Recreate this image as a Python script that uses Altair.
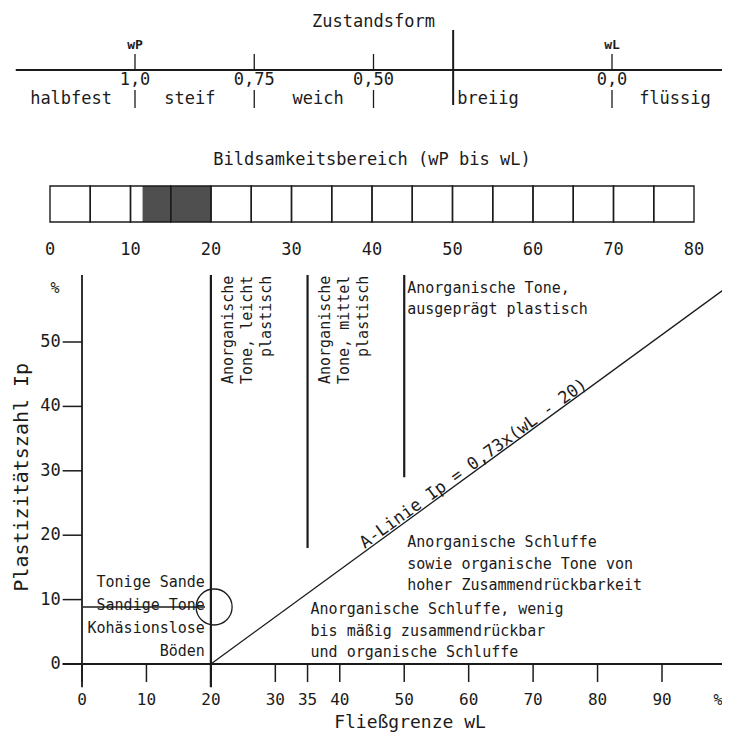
import altair as alt
import pandas as pd

FONT = "DejaVu Sans Mono"
INK = "#1b1b1b"

# ---------------- data ----------------
# Zustandsform strip (consistency index Ic)
ic_ticks = [1.0, 0.75, 0.50, 0.0]
ic_tick_labels = ["1,0", "0,75", "0,50", "0,0"]
ic_limits = [1.0, 0.0]
ic_limit_labels = ["wP", "wL"]
ic_states = ["halbfest", "steif", "weich", "breiig", "flüssig"]
ic_state_pos = [1.134, 0.885, 0.616, 0.26, -0.132]
ic_divider = [0.333]
ic_line_span = [1.25, -0.24]

# Bildsamkeitsbereich bar (wP bis wL)
bar_edges = [0, 5, 10, 15, 20, 25, 30, 35, 40, 45, 50, 55, 60, 65, 70, 75, 80]
bar_tick_values = [0, 10, 20, 30, 40, 50, 60, 70, 80]
bar_hatch = [11.5, 20]

# Plastizitätsdiagramm
wl_ticks = [0, 10, 20, 30, 35, 40, 50, 60, 70, 80, 90]
ip_ticks = [0, 10, 20, 30, 40, 50]
zone_wl = [20, 35, 50]
zone_ip_low = [-3.6, 18, 29]
zone_ip_high = [60.4, 60.4, 60.4]
a_line_wl = [20, 99.8]
a_line_ip = [0, 58.3]

rot_blocks_wl = [20, 35]
rot_blocks_text = [["Anorganische", "Tone, leicht", "plastisch"],
                   ["Anorganische", "Tone, mittel", "plastisch"]]
left_blocks_wl = [50, 50, 35]
left_blocks_ip = [59.5, 20.0, 9.6]
left_blocks_text = [["Anorganische Tone,", "ausgeprägt plastisch"],
                    ["Anorganische Schluffe", "sowie organische Tone von", "hoher Zusammendrückbarkeit"],
                    ["Anorganische Schluffe, wenig", "bis mäßig zusammendrückbar", "und organische Schluffe"]]
right_block_wl = [20]
right_block_ip = [13.8]
right_block_text = [["Tonige Sande", "Sandige Tone", "Kohäsionslose", "Böden"]]
strike_wl = [0.15, 19.1]
strike_ip = [8.85]
circle_wl = [20.5]
circle_ip = [8.85]

# ---------------- scales ----------------
def sc(domain, rng):
    return alt.Scale(domain=domain, range=rng, nice=False, zero=False)

WL = sc([0, 90], [74, 654])
IP = sc([0, 50], [656, 334])
BAR = sc([0, 80], [42, 686])
IC = sc([1, 0], [127, 604])


def X(f, s):
    return alt.X(f, type="quantitative", scale=s, axis=None)


def Y(f, s):
    return alt.Y(f, type="quantitative", scale=s, axis=None)


def txt(**kw):
    base = dict(font=FONT, color=INK)
    base.update(kw)
    return base


layers = []

# ---------- Zustandsform strip ----------
layers.append(alt.Chart(pd.DataFrame({"a": [ic_line_span[0]], "b": [ic_line_span[1]]}))
              .mark_rule(color=INK, strokeWidth=1.8)
              .encode(x=X("a", IC), x2="b", y=alt.value(62)))
df_ic = pd.DataFrame({"ic": ic_ticks, "lab": ic_tick_labels})
layers.append(alt.Chart(df_ic).mark_rule(color=INK, strokeWidth=1.3)
              .encode(x=X("ic", IC), y=alt.value(46), y2=alt.value(62)))
layers.append(alt.Chart(df_ic).mark_rule(color=INK, strokeWidth=1.3)
              .encode(x=X("ic", IC), y=alt.value(82), y2=alt.value(100)))
layers.append(alt.Chart(df_ic).mark_text(**txt(fontSize=17, baseline="middle"))
              .encode(x=X("ic", IC), y=alt.value(72), text="lab:N"))
layers.append(alt.Chart(pd.DataFrame({"ic": ic_divider})).mark_rule(color=INK, strokeWidth=2)
              .encode(x=X("ic", IC), y=alt.value(22), y2=alt.value(97)))
layers.append(alt.Chart(pd.DataFrame({"ic": ic_limits, "lab": ic_limit_labels}))
              .mark_text(**txt(fontSize=13, baseline="middle", fontWeight="bold"))
              .encode(x=X("ic", IC), y=alt.value(37), text="lab:N"))
layers.append(alt.Chart(pd.DataFrame({"ic": ic_state_pos, "lab": ic_states}))
              .mark_text(**txt(fontSize=17, baseline="middle"))
              .encode(x=X("ic", IC), y=alt.value(91), text="lab:N"))
layers.append(alt.Chart(pd.DataFrame({"ic": [0.5], "lab": ["Zustandsform"]}))
              .mark_text(**txt(fontSize=17, baseline="middle"))
              .encode(x=X("ic", IC), y=alt.value(14), text="lab:N"))

# ---------- Bildsamkeitsbereich bar ----------
layers.append(alt.Chart(pd.DataFrame({"a": [bar_hatch[0]], "b": [bar_hatch[1]]}))
              .mark_rect(fill="#4f4f4f", stroke=None)
              .encode(x=X("a", BAR), x2="b", y=alt.value(178), y2=alt.value(214)))
layers.append(alt.Chart(pd.DataFrame({"a": bar_edges[:-1], "b": bar_edges[1:]}))
              .mark_rect(fill="white", fillOpacity=0, stroke=INK, strokeWidth=1.4)
              .encode(x=X("a", BAR), x2="b", y=alt.value(178), y2=alt.value(214)))
layers.append(alt.Chart(pd.DataFrame({"v": bar_tick_values}))
              .mark_text(**txt(fontSize=17, baseline="middle"))
              .encode(x=X("v", BAR), y=alt.value(242), text="v:Q"))
layers.append(alt.Chart(pd.DataFrame({"v": [40], "lab": ["Bildsamkeitsbereich (wP bis wL)"]}))
              .mark_text(**txt(fontSize=17, baseline="middle"))
              .encode(x=X("v", BAR), y=alt.value(152), text="lab:N"))

# ---------- main plasticity chart ----------
# axes
layers.append(alt.Chart(pd.DataFrame({"a": [0], "lo": [-3.6], "hi": [60.4]}))
              .mark_rule(color=INK, strokeWidth=1.8)
              .encode(x=X("a", WL), y=Y("lo", IP), y2="hi"))
layers.append(alt.Chart(pd.DataFrame({"lo": [-3.0], "hi": [99.8], "ip": [0]}))
              .mark_rule(color=INK, strokeWidth=1.8)
              .encode(x=X("lo", WL), x2="hi", y=Y("ip", IP)))
df_y = pd.DataFrame({"ip": ip_ticks})
df_y["x0"] = -3.0
df_y["x1"] = 0.0
layers.append(alt.Chart(df_y).mark_rule(color=INK, strokeWidth=1.5)
              .encode(x=X("x0", WL), x2="x1", y=Y("ip", IP)))
layers.append(alt.Chart(df_y).mark_text(**txt(fontSize=17, baseline="middle", align="right", dx=-2))
              .encode(x=X("x0", WL), y=Y("ip", IP), text="ip:Q"))
df_x = pd.DataFrame({"wl": wl_ticks})
df_x["y0"] = 0.0
df_x["y1"] = -2.8
layers.append(alt.Chart(df_x).mark_rule(color=INK, strokeWidth=1.5)
              .encode(x=X("wl", WL), y=Y("y0", IP), y2="y1"))
layers.append(alt.Chart(df_x).mark_text(**txt(fontSize=16, baseline="middle", dy=36))
              .encode(x=X("wl", WL), y=Y("y0", IP), text="wl:Q"))
layers.append(alt.Chart(pd.DataFrame({"wl": [-4.2, 98.7], "ip": [58.4, -5.6], "lab": ["%", "%"]}))
              .mark_text(**txt(fontSize=15, baseline="middle"))
              .encode(x=X("wl", WL), y=Y("ip", IP), text="lab:N"))
layers.append(alt.Chart(pd.DataFrame({"wl": [-9.3], "ip": [29.0], "lab": ["Plastizitätszahl Ip"]}))
              .mark_text(**txt(fontSize=20, baseline="middle", angle=270))
              .encode(x=X("wl", WL), y=Y("ip", IP), text="lab:N"))
layers.append(alt.Chart(pd.DataFrame({"wl": [50.9], "ip": [-9.2], "lab": ["Fließgrenze wL"]}))
              .mark_text(**txt(fontSize=18, baseline="middle"))
              .encode(x=X("wl", WL), y=Y("ip", IP), text="lab:N"))

# zone boundaries and A-line
layers.append(alt.Chart(pd.DataFrame({"wl": zone_wl, "lo": zone_ip_low, "hi": zone_ip_high}))
              .mark_rule(color=INK, strokeWidth=2.2)
              .encode(x=X("wl", WL), y=Y("lo", IP), y2="hi"))
layers.append(alt.Chart(pd.DataFrame({"wl": a_line_wl, "ip": a_line_ip}))
              .mark_line(color=INK, strokeWidth=1.3)
              .encode(x=X("wl", WL), y=Y("ip", IP)))
layers.append(alt.Chart(pd.DataFrame({"wl": [61.4], "ip": [30.2], "lab": ["A-Linie Ip = 0,73x(wL - 20)"]}))
              .mark_text(**txt(fontSize=17, baseline="alphabetic", angle=324, dy=-2))
              .encode(x=X("wl", WL), y=Y("ip", IP), text="lab:N"))

# zone labels
layers.append(alt.Chart(alt.Data(values=[{"wl": w, "ip": 60.3, "t": t}
                                         for w, t in zip(rot_blocks_wl, rot_blocks_text)]))
              .mark_text(**txt(fontSize=15, baseline="top", align="right", angle=270, dy=10, lineHeight=19))
              .encode(x=X("wl:Q", WL), y=Y("ip:Q", IP), text="t:N"))
layers.append(alt.Chart(alt.Data(values=[{"wl": w, "ip": i, "t": t}
                                         for w, i, t in zip(left_blocks_wl, left_blocks_ip, left_blocks_text)]))
              .mark_text(**txt(fontSize=15, baseline="top", align="left", dx=3, lineHeight=21.5))
              .encode(x=X("wl:Q", WL), y=Y("ip:Q", IP), text="t:N"))
layers.append(alt.Chart(alt.Data(values=[{"wl": w, "ip": i, "t": t}
                                         for w, i, t in zip(right_block_wl, right_block_ip, right_block_text)]))
              .mark_text(**txt(fontSize=15, baseline="top", align="right", dx=-6, lineHeight=23))
              .encode(x=X("wl:Q", WL), y=Y("ip:Q", IP), text="t:N"))
layers.append(alt.Chart(pd.DataFrame({"a": [strike_wl[0]], "b": [strike_wl[1]], "ip": strike_ip}))
              .mark_rule(color=INK, strokeWidth=1.3)
              .encode(x=X("a", WL), x2="b", y=Y("ip", IP)))
layers.append(alt.Chart(pd.DataFrame({"wl": circle_wl, "ip": circle_ip}))
              .mark_point(shape="circle", size=1296, filled=False, color=INK, strokeWidth=1.3, opacity=1)
              .encode(x=X("wl", WL), y=Y("ip", IP)))

chart = (alt.layer(*layers)
         .resolve_scale(x="independent", y="independent")
         .properties(width=714, height=724, autosize=alt.AutoSizeParams(type="none"), padding=0,
                     background="white")
         .configure_view(stroke=None))

chart.save("out.html", embed_options={"renderer": "svg", "actions": False})
